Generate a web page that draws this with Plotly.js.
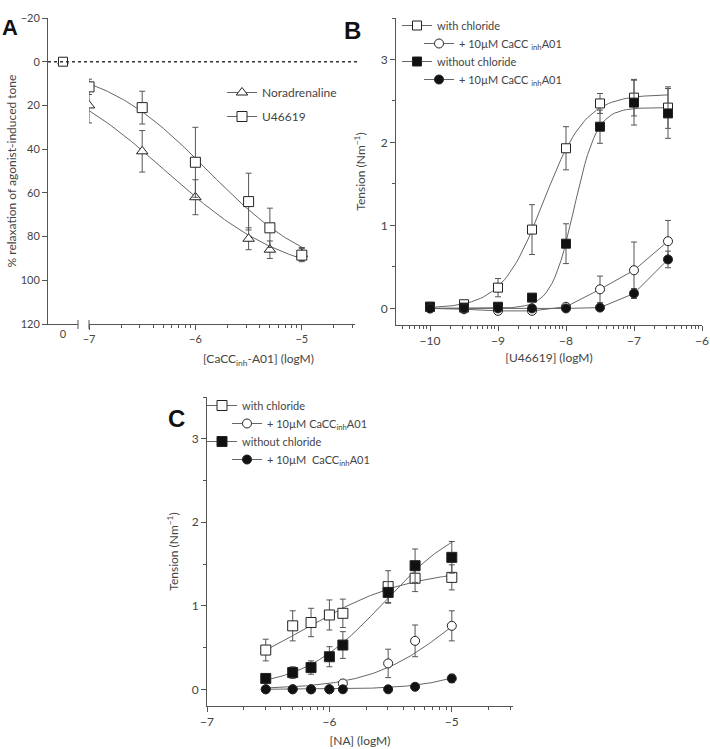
<!DOCTYPE html>
<html>
<head>
<meta charset="utf-8">
<script src="https://cdn.plot.ly/plotly-3.0.1.min.js"></script>
<style>body{margin:0;background:#fff}#chart{width:710px;height:749px}</style>
</head>
<body>
<div id="chart"></div>
<script>
// ---- Panel A: relaxation by CaCCinh-A01 ----
const logA = [-7, -6.5, -6, -5.5, -5.3, -5];
const naRelax = [20, 41, 62, 81, 86, 88];
const naErr = [8, 9.5, 8, 5, 4, 3];
const u4Relax = [11.5, 21, 46, 64, 76, 88.5];
const u4Err = [3.5, 7.5, 16, 13, 9, 3];
const zeroX = [0];
const zeroRelax = [0];
const zeroErr = [1.5];
const aTicks = [-20, 0, 20, 40, 60, 80, 100, 120];

// ---- Panel B: U46619 concentration-response ----
const logU = [-10, -9.5, -9, -8.5, -8, -7.5, -7, -6.5];
const bWith = [0.02, 0.05, 0.25, 0.95, 1.93, 2.47, 2.54, 2.42];
const bWithErr = [0.02, 0.03, 0.11, 0.3, 0.26, 0.12, 0.22, 0.25];
const bWithInh = [0, -0.01, -0.03, -0.03, 0.02, 0.23, 0.46, 0.81];
const bWithInhErr = [0.01, 0.01, 0.02, 0.02, 0.02, 0.16, 0.34, 0.25];
const bWithout = [0.02, 0.01, 0.02, 0.13, 0.78, 2.19, 2.48, 2.35];
const bWithoutErr = [0.01, 0.01, 0.02, 0.03, 0.24, 0.2, 0.27, 0.3];
const bWithoutInh = [0, 0, 0, 0, 0, 0.01, 0.18, 0.59];
const bWithoutInhErr = [0.01, 0.01, 0.01, 0.01, 0.01, 0.01, 0.06, 0.1];

// ---- Panel C: noradrenaline concentration-response ----
const logNA = [-6.52, -6.3, -6.15, -6, -5.89, -5.52, -5.3, -5];
const cWith = [0.47, 0.76, 0.8, 0.89, 0.91, 1.23, 1.33, 1.34];
const cWithErr = [0.13, 0.18, 0.17, 0.18, 0.17, 0.19, 0.16, 0.15];
const cWithInh = [0, 0, 0, 0, 0.07, 0.31, 0.58, 0.76];
const cWithInhErr = [0.01, 0.01, 0.01, 0.01, 0.02, 0.17, 0.19, 0.18];
const cWithout = [0.13, 0.2, 0.26, 0.39, 0.53, 1.16, 1.48, 1.58];
const cWithoutErr = [0.03, 0.07, 0.08, 0.12, 0.16, 0.13, 0.2, 0.19];
const cWithoutInh = [0, 0, 0, 0, 0, 0, 0.03, 0.13];
const cWithoutInhErr = [0.01, 0.01, 0.01, 0.01, 0.01, 0.01, 0.01, 0.05];

const tensionTicks = [0, 1, 2, 3];

// fitted sigmoid curves (Hill), parameters
const fitA_NA = {top: 100, logEC50: -6.28, hill: 0.75, from: -7, to: -5};
const fitA_U4 = {top: 100, logEC50: -5.88, hill: 0.85, from: -7, to: -5};
const fitB_with = {top: 2.58, logEC50: -8.33, hill: 1.41, from: -10, to: -6.5};
const fitB_without = {top: 2.42, logEC50: -7.88, hill: 2.6, from: -10, to: -6.5};
const fitC_with = {top: 1.45, logEC50: -6.2, hill: 1.0, from: -6.52, to: -5};
const fitC_withInh = {top: 1.5, logEC50: -5.0, hill: 1.3, from: -6.52, to: -5};
const fitC_without = {top: 2.1, logEC50: -5.55, hill: 1.3, from: -6.52, to: -5};
const fitC_withoutInh = {top: 1.0, logEC50: -4.5, hill: 1.6, from: -6.52, to: -5};

const W = 710, H = 749;
const px = v => v / W;        // pixel from left -> paper
const py = v => 1 - v / H;    // pixel from top -> paper

const LINE = '#666';
const INK = '#222';
const FONT = 'Lato';

function hillCurve(p) {
  const x = [], y = [];
  for (let i = 0; i <= 80; i++) {
    const lx = p.from + (p.to - p.from) * i / 80;
    x.push(lx);
    y.push(p.top / (1 + Math.pow(10, (p.logEC50 - lx) * p.hill)));
  }
  return {x, y};
}

// put a gap between points so the marker trace shows a line in the legend only
function spaced(arr) {
  const out = [];
  arr.forEach((v, i) => { if (i) out.push(null); out.push(v); });
  return out;
}

function fitTrace(p, xa, ya) {
  const c = hillCurve(p);
  return {x: c.x, y: c.y, xaxis: xa, yaxis: ya, mode: 'lines', showlegend: false,
    hoverinfo: 'skip', line: {color: LINE, width: 1}};
}

function pointsTrace(o) {
  const joined = !!o.joined;
  return {
    name: o.name,
    x: joined ? o.x : spaced(o.x),
    y: joined ? o.y : spaced(o.y),
    xaxis: o.xa, yaxis: o.ya,
    mode: 'lines+markers',
    showlegend: o.legend !== undefined,
    legend: o.legend || 'legend',
    legendgroup: o.group,
    line: {color: LINE, width: 1},
    marker: {symbol: o.symbol, size: o.size || 9, color: o.fill, line: {color: INK, width: 1}},
    error_y: {type: 'data', array: joined ? o.err : spaced(o.err), visible: true,
      color: '#555', thickness: 1, width: 3}
  };
}

function logMinor(lo, hi) {
  const out = [];
  for (let d = Math.floor(lo); d < hi; d++) {
    for (let k = 2; k <= 9; k++) {
      const v = d + Math.log10(k);
      if (v > lo && v < hi) out.push(v);
    }
  }
  return out;
}

const data = [
  // A
  fitTrace(fitA_NA, 'x2', 'y'),
  fitTrace(fitA_U4, 'x2', 'y'),
  pointsTrace({x: zeroX, y: zeroRelax, err: zeroErr, xa: 'x', ya: 'y', symbol: 'triangle-up', fill: 'white'}),
  pointsTrace({x: zeroX, y: zeroRelax, err: zeroErr, xa: 'x', ya: 'y', symbol: 'square', fill: 'white'}),
  pointsTrace({name: 'Noradrenaline', x: logA, y: naRelax, err: naErr, xa: 'x2', ya: 'y',
    symbol: 'triangle-up', fill: 'white', size: 10, legend: 'legend', group: 'a1'}),
  pointsTrace({name: 'U46619', x: logA, y: u4Relax, err: u4Err, xa: 'x2', ya: 'y',
    symbol: 'square', fill: 'white', size: 10, legend: 'legend', group: 'a2'}),
  // B
  fitTrace(fitB_with, 'x3', 'y2'),
  fitTrace(fitB_without, 'x3', 'y2'),
  pointsTrace({name: 'with chloride', x: logU, y: bWith, err: bWithErr, xa: 'x3', ya: 'y2',
    symbol: 'square', fill: 'white', legend: 'legend2', group: 'b1'}),
  pointsTrace({name: 'without chloride', x: logU, y: bWithout, err: bWithoutErr, xa: 'x3', ya: 'y2',
    symbol: 'square', fill: '#111', legend: 'legend2', group: 'b2'}),
  pointsTrace({name: '+ 10µM CaCC <sub>inh</sub>A01', x: logU, y: bWithInh, err: bWithInhErr, xa: 'x3', ya: 'y2',
    symbol: 'circle', fill: 'white', legend: 'legend3', group: 'b3', joined: true}),
  pointsTrace({name: '+ 10µM CaCC <sub>inh</sub>A01', x: logU, y: bWithoutInh, err: bWithoutInhErr, xa: 'x3', ya: 'y2',
    symbol: 'circle', fill: '#111', legend: 'legend3', group: 'b4', joined: true}),
  // C
  fitTrace(fitC_with, 'x4', 'y3'),
  fitTrace(fitC_withInh, 'x4', 'y3'),
  fitTrace(fitC_without, 'x4', 'y3'),
  fitTrace(fitC_withoutInh, 'x4', 'y3'),
  pointsTrace({name: 'with chloride', x: logNA, y: cWith, err: cWithErr, xa: 'x4', ya: 'y3',
    symbol: 'square', fill: 'white', size: 10, legend: 'legend4', group: 'c1'}),
  pointsTrace({name: 'without chloride', x: logNA, y: cWithout, err: cWithoutErr, xa: 'x4', ya: 'y3',
    symbol: 'square', fill: '#111', size: 10, legend: 'legend4', group: 'c2'}),
  pointsTrace({name: '+ 10µM CaCC<sub>inh</sub>A01', x: logNA, y: cWithInh, err: cWithInhErr, xa: 'x4', ya: 'y3',
    symbol: 'circle', fill: 'white', legend: 'legend5', group: 'c3'}),
  pointsTrace({name: '+ 10µM  CaCC<sub>inh</sub>A01', x: logNA, y: cWithoutInh, err: cWithoutInhErr, xa: 'x4', ya: 'y3',
    symbol: 'circle', fill: '#111', legend: 'legend5', group: 'c4'})
];

const axis = {
  showline: true, linecolor: '#555', linewidth: 1, ticks: 'outside', ticklen: 5,
  tickcolor: '#555', showgrid: false, zeroline: false,
  tickfont: {family: FONT, size: 12, color: '#444'}
};
const smallTicks = {family: FONT, size: 11, color: '#444'};
const titleFont = {family: FONT, size: 12, color: '#444'};
const legendBase = {bgcolor: 'rgba(0,0,0,0)', borderwidth: 0, xanchor: 'left', yanchor: 'top',
  traceorder: 'grouped', font: {family: FONT, size: 11, color: '#444'}};

const layout = {
  width: W, height: H,
  margin: {l: 0, r: 0, t: 0, b: 0},
  paper_bgcolor: '#fff', plot_bgcolor: 'rgba(0,0,0,0)',
  font: {family: FONT},
  // A: zero-concentration segment
  xaxis: Object.assign({}, axis, {domain: [px(48), px(78)], range: [-1, 1], anchor: 'y',
    tickmode: 'array', tickvals: [0], ticktext: ['0'], ticks: '', tickfont: smallTicks}),
  // A: log segment
  xaxis2: Object.assign({}, axis, {domain: [px(89), px(355)], range: [-7, -4.5], anchor: 'y',
    tickmode: 'array', tickvals: [-7, -6, -5], tickfont: smallTicks,
    minor: {tickmode: 'array', tickvals: logMinor(-7, -4.5), ticklen: 3, ticks: 'outside', tickcolor: '#555'}}),
  yaxis: Object.assign({}, axis, {domain: [py(324), py(18)], range: [120, -20], anchor: 'x',
    tickmode: 'array', tickvals: aTicks, tickfont: smallTicks,
    title: {text: '% relaxation of agonist-induced tone', font: titleFont, standoff: 1}}),
  // B
  xaxis3: Object.assign({}, axis, {domain: [px(396), px(702)], range: [-10.5, -6], anchor: 'y2',
    tickmode: 'array', tickvals: [-10, -9, -8, -7, -6],
    minor: {tickmode: 'array', tickvals: logMinor(-10.5, -6), ticklen: 3, ticks: 'outside', tickcolor: '#555'},
    title: {text: '[U46619] (logM)', font: titleFont, standoff: 6}}),
  yaxis2: Object.assign({}, axis, {domain: [py(325), py(18)], range: [-0.2, 3.5], anchor: 'x3',
    tickmode: 'array', tickvals: tensionTicks,
    minor: {tickmode: 'array', tickvals: [0.5, 1.5, 2.5, 3.5], ticklen: 3, ticks: 'outside', tickcolor: '#555'},
    title: {text: 'Tension (Nm<sup>−1</sup>)', font: titleFont, standoff: 12}}),
  // C
  xaxis4: Object.assign({}, axis, {domain: [px(207), px(513)], range: [-7, -4.5], anchor: 'y3',
    tickmode: 'array', tickvals: [-7, -6, -5],
    minor: {tickmode: 'array', tickvals: logMinor(-7, -4.5), ticklen: 3, ticks: 'outside', tickcolor: '#555'},
    title: {text: '[NA] (logM)', font: titleFont, standoff: 8}}),
  yaxis3: Object.assign({}, axis, {domain: [py(706), py(397)], range: [-0.2, 3.5], anchor: 'x4',
    tickmode: 'array', tickvals: tensionTicks,
    minor: {tickmode: 'array', tickvals: [0.5, 1.5, 2.5, 3.5], ticklen: 3, ticks: 'outside', tickcolor: '#555'},
    title: {text: 'Tension (Nm<sup>−1</sup>)', font: titleFont, standoff: 10}}),
  legend: Object.assign({}, legendBase, {x: px(222), y: py(78), tracegroupgap: 5,
    font: {family: FONT, size: 12, color: '#444'}}),
  legend2: Object.assign({}, legendBase, {x: px(397), y: py(11), tracegroupgap: 17}),
  legend3: Object.assign({}, legendBase, {x: px(419), y: py(29), tracegroupgap: 17}),
  legend4: Object.assign({}, legendBase, {x: px(202), y: py(391), tracegroupgap: 17}),
  legend5: Object.assign({}, legendBase, {x: px(227), y: py(409), tracegroupgap: 17}),
  shapes: [
    // dotted zero line in A
    {type: 'line', xref: 'paper', yref: 'y', x0: px(48), x1: px(358), y0: 0, y1: 0,
      line: {color: '#333', width: 1.5, dash: 'dot'}},
    // axis break marks in A
    {type: 'line', xref: 'paper', yref: 'paper', x0: px(78), x1: px(78), y0: py(320), y1: py(329),
      line: {color: '#555', width: 1}},
    {type: 'line', xref: 'paper', yref: 'paper', x0: px(89), x1: px(89), y0: py(320), y1: py(329),
      line: {color: '#555', width: 1}}
  ],
  annotations: [
    {text: '<b>A</b>', x: px(1), y: py(14), xanchor: 'left', xref: 'paper', yref: 'paper', showarrow: false,
      borderpad: 0, font: {family: 'Liberation Sans', size: 22, color: '#111'}},
    {text: '<b>B</b>', x: px(352), y: py(15), xref: 'paper', yref: 'paper', showarrow: false,
      font: {family: 'Liberation Sans', size: 24, color: '#111'}},
    {text: '<b>C</b>', x: px(166), y: py(418), xref: 'paper', yref: 'paper', showarrow: false,
      font: {family: 'Liberation Sans', size: 24, color: '#111'}},
    {text: '[CaCC<sub>inh</sub>-A01] (logM)', x: px(201), y: py(359), xref: 'paper', yref: 'paper',
      showarrow: false, font: titleFont}
  ]
};

Plotly.newPlot('chart', data, layout, {displayModeBar: false, staticPlot: true});
</script>
</body>
</html>
